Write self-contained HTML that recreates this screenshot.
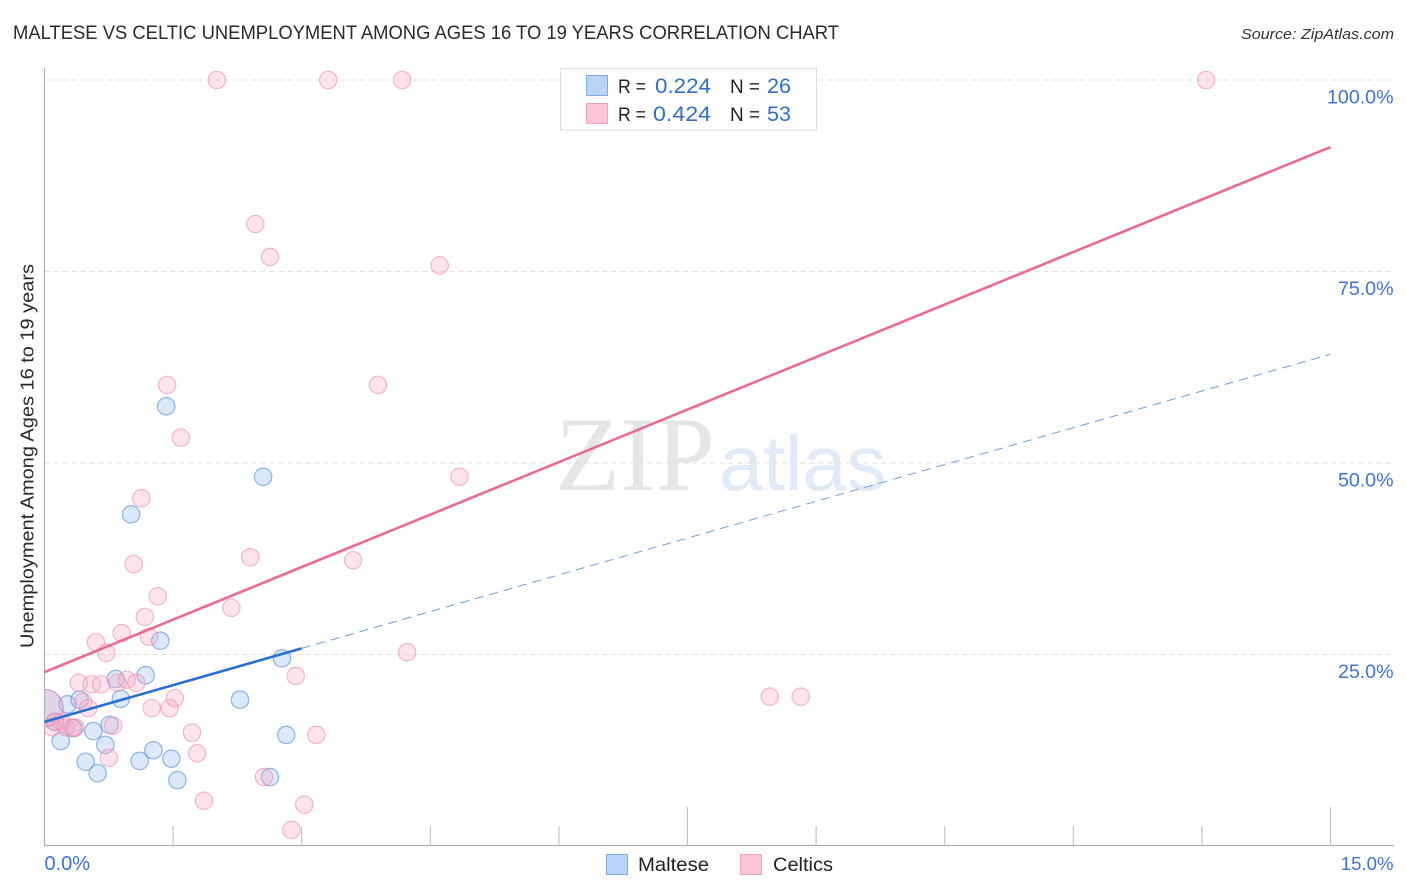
<!DOCTYPE html>
<html lang="en">
<head>
<meta charset="utf-8">
<title>Maltese vs Celtic Unemployment Among Ages 16 to 19 Years Correlation Chart</title>
<style>
html,body{margin:0;padding:0;background:#fff;width:1406px;height:892px;overflow:hidden}
svg{display:block;font-family:"Liberation Sans",sans-serif}
</style>
</head>
<body>
<svg id="chart" xmlns="http://www.w3.org/2000/svg" width="1406" height="892" viewBox="0 0 1406 892">
  <defs>
    <clipPath id="plot-clip"><rect x="44.5" y="60" width="1350" height="786"/></clipPath>
  </defs>
  <rect x="0" y="0" width="1406" height="892" fill="#fff"/>
  <text x="13" y="39" font-size="19" fill="#2a2a2a" textLength="826" lengthAdjust="spacingAndGlyphs">MALTESE VS CELTIC UNEMPLOYMENT AMONG AGES 16 TO 19 YEARS CORRELATION CHART</text>
  <text x="1241" y="39" font-size="15" font-style="italic" fill="#333" textLength="153" lengthAdjust="spacingAndGlyphs">Source: ZipAtlas.com</text>

  <g>
    <text x="555" y="490" font-family="'Liberation Serif',serif" font-size="106" fill="#e6e6e6" textLength="160" lengthAdjust="spacingAndGlyphs">ZIP</text>
    <text x="719" y="490" font-size="78" fill="#e0eaf9" textLength="167" lengthAdjust="spacingAndGlyphs">atlas</text>
  </g>

  <g id="grid"></g>
  <g id="axes"></g>
  <g id="marks" clip-path="url(#plot-clip)"></g>
  <g id="trends"></g>
  <g id="labels"></g>

  <text transform="translate(33.5,648) rotate(-90)" x="0" y="0" font-size="18" fill="#2a2a2a" textLength="384" lengthAdjust="spacingAndGlyphs">Unemployment Among Ages 16 to 19 years</text>

  <g>
    <rect x="560.5" y="68.5" width="256" height="61.5" fill="#fff" stroke="#ddd" stroke-width="1"/>
    <rect x="586.5" y="75.5" width="21" height="20" fill="#b9d4f6" stroke="#7fabe6" stroke-width="1"/>
    <rect x="586.5" y="103.5" width="21" height="20" fill="#fcc5d8" stroke="#f3a0bd" stroke-width="1"/>
    <text x="618" y="93" font-size="19" fill="#222" textLength="28" lengthAdjust="spacingAndGlyphs">R =</text>
    <text x="655" y="93" font-size="21" fill="#2f6fd0" textLength="56" lengthAdjust="spacingAndGlyphs">0.224</text>
    <text x="730" y="93" font-size="19" fill="#222" textLength="30" lengthAdjust="spacingAndGlyphs">N =</text>
    <text x="767" y="93" font-size="21" fill="#2f6fd0" textLength="24" lengthAdjust="spacingAndGlyphs">26</text>
    <text x="618" y="121" font-size="19" fill="#222" textLength="28" lengthAdjust="spacingAndGlyphs">R =</text>
    <text x="653" y="121" font-size="21" fill="#2f6fd0" textLength="58" lengthAdjust="spacingAndGlyphs">0.424</text>
    <text x="730" y="121" font-size="19" fill="#222" textLength="30" lengthAdjust="spacingAndGlyphs">N =</text>
    <text x="767" y="121" font-size="21" fill="#2f6fd0" textLength="24" lengthAdjust="spacingAndGlyphs">53</text>
  </g>

  <g>
    <rect x="606.5" y="854.5" width="21" height="20" fill="#b9d4f6" stroke="#7fabe6" stroke-width="1"/>
    <text x="638" y="871" font-size="19.5" fill="#222" textLength="71" lengthAdjust="spacingAndGlyphs">Maltese</text>
    <rect x="740.5" y="854.5" width="21" height="20" fill="#fcc5d8" stroke="#f3a0bd" stroke-width="1"/>
    <text x="773" y="871" font-size="19.5" fill="#222" textLength="60" lengthAdjust="spacingAndGlyphs">Celtics</text>
  </g>
</svg>
<script>
const malteseX = [0, 0.12, 0.19, 0.27, 0.34, 0.41, 0.48, 0.57, 0.62, 0.71, 0.76, 0.83, 0.89, 1.01, 1.11, 1.18, 1.27, 1.35, 1.42, 1.48, 1.55, 2.28, 2.55, 2.63, 2.77, 2.82];
const malteseY = [18.0, 16.2, 13.7, 18.5, 15.4, 19.1, 11.0, 15.0, 9.5, 13.2, 15.8, 21.8, 19.2, 43.3, 11.1, 22.3, 12.5, 26.8, 57.4, 11.4, 8.6, 19.1, 48.2, 9.0, 24.5, 14.5];
const celticsX = [0, 0.09, 0.12, 0.2, 0.25, 0.32, 0.36, 0.40, 0.45, 0.51, 0.55, 0.60, 0.66, 0.72, 0.75, 0.80, 0.85, 0.90, 0.96, 1.04, 1.07, 1.13, 1.17, 1.22, 1.25, 1.32, 1.43, 1.46, 1.52, 1.59, 1.72, 1.78, 1.86, 2.01, 2.18, 2.40, 2.46, 2.56, 2.63, 2.88, 2.93, 3.03, 3.17, 3.31, 3.60, 3.89, 4.17, 4.23, 4.61, 4.84, 8.46, 8.82, 13.55];
const celticsY = [18.0, 15.5, 16.2, 16.2, 15.5, 15.4, 15.5, 21.3, 18.8, 18.0, 21.1, 26.6, 21.1, 25.2, 11.5, 15.7, 21.3, 27.8, 21.7, 36.8, 21.3, 45.4, 29.9, 27.3, 18.0, 32.6, 60.2, 18.0, 19.3, 53.3, 14.8, 12.1, 5.9, 100, 31.1, 37.7, 81.2, 9.0, 76.9, 2.1, 22.2, 5.4, 14.5, 100, 37.3, 60.2, 100, 25.3, 75.8, 48.2, 19.5, 19.5, 100];
const maltesePopulation = [9, 1, 1, 1, 1, 1, 1, 1, 1, 1, 1, 1, 1, 1, 1, 1, 1, 1, 1, 1, 1, 1, 1, 1, 1, 1];
const celticsPopulation = [9].concat(new Array(celticsX.length - 1).fill(1));
const malteseTrendX = [0, 3];
const malteseTrendY = [16.2, 25.8];
const malteseForecastX = [3, 15];
const malteseForecastY = [25.8, 64.2];
const celticsTrendX = [0, 15];
const celticsTrendY = [22.7, 91.25];
const yTicks = [25, 50, 75, 100];
const yTickLabels = ['25.0%', '50.0%', '75.0%', '100.0%'];
const xTicks = [1.5, 3, 4.5, 6, 7.5, 9, 10.5, 12, 13.5, 15];
const xMajorTicks = [7.5, 15];
const xEndLabels = ['0.0%', '15.0%'];

const NS = 'http://www.w3.org/2000/svg';
const sx = v => 44.5 + v * (1286 / 15);
const sy = v => 846 - v * 7.66;
const radius = w => 8.7 * Math.sqrt(w > 1 ? 4.6 : 1);

function make(tag, attrs, parent) {
  const el = document.createElementNS(NS, tag);
  for (const k in attrs) el.setAttribute(k, attrs[k]);
  parent.appendChild(el);
  return el;
}

const grid = document.getElementById('grid');
yTicks.forEach(function (t) {
  const line = make('line', {x1: 44.5, x2: 1394, y1: sy(t), y2: sy(t), stroke: '#e2dfe2', 'stroke-width': 1, 'stroke-dasharray': '5 4'}, grid);
  
  
});

const axes = document.getElementById('axes');
const yAxis = make('line', {x1: 44.5, x2: 44.5, y1: 68, y2: 846, stroke: '#b0b0b0', 'stroke-width': 1.2}, axes);


const xAxis = make('line', {x1: 44, x2: 1394, y1: 845.5, y2: 845.5, stroke: '#b0b0b0', 'stroke-width': 1.2}, axes);


xTicks.forEach(function (t) {
  const top = xMajorTicks.includes(t) ? 807 : 826;
  const tick = make('line', {x1: sx(t), x2: sx(t), y1: top, y2: 846, stroke: '#c0c0c0', 'stroke-width': 1.1}, axes);
  
  
});

const marks = document.getElementById('marks');
function drawSeries(xs, ys, sizes, fill, stroke, name) {
  xs.forEach(function (x, i) {
    const c = make('circle', {cx: sx(x), cy: sy(ys[i]), r: radius(sizes[i]), fill: fill, stroke: stroke, 'stroke-width': 1.2}, marks);
    
    
  });
}
drawSeries(malteseX, malteseY, maltesePopulation, 'rgba(154,194,243,0.36)', 'rgba(95,152,225,0.7)', 'maltese-point');
drawSeries(celticsX, celticsY, celticsPopulation, 'rgba(248,165,192,0.3)', 'rgba(238,140,172,0.6)', 'celtics-point');

const trends = document.getElementById('trends');
const mt = make('line', {x1: sx(malteseTrendX[0]), y1: sy(malteseTrendY[0]), x2: sx(malteseTrendX[1]), y2: sy(malteseTrendY[1]), stroke: '#2a6fd6', 'stroke-width': 2.6}, trends);


const mf = make('line', {x1: sx(malteseForecastX[0]), y1: sy(malteseForecastY[0]), x2: sx(malteseForecastX[1]), y2: sy(malteseForecastY[1]), stroke: '#6f9de0', 'stroke-width': 1, 'stroke-dasharray': '9 6'}, trends);


const ct = make('line', {x1: sx(celticsTrendX[0]), y1: sy(celticsTrendY[0]), x2: sx(celticsTrendX[1]), y2: sy(celticsTrendY[1]), stroke: '#ea6a96', 'stroke-width': 2.6}, trends);



const labels = document.getElementById('labels');
yTicks.forEach(function (t, i) {
  const lab = make('text', {x: 1393.5, y: sy(t) + 23.5, 'font-size': 19.6, fill: '#3f72d6', 'text-anchor': 'end'}, labels);
  
  
  lab.textContent = yTickLabels[i];
});
const x0 = make('text', {x: 44.5, y: 870, 'font-size': 20, fill: '#3f72d6'}, labels);


x0.textContent = xEndLabels[0];
const x1 = make('text', {x: 1393.5, y: 870, 'font-size': 18.6, fill: '#3f72d6', 'text-anchor': 'end'}, labels);


x1.textContent = xEndLabels[1];
</script>
</body>
</html>
